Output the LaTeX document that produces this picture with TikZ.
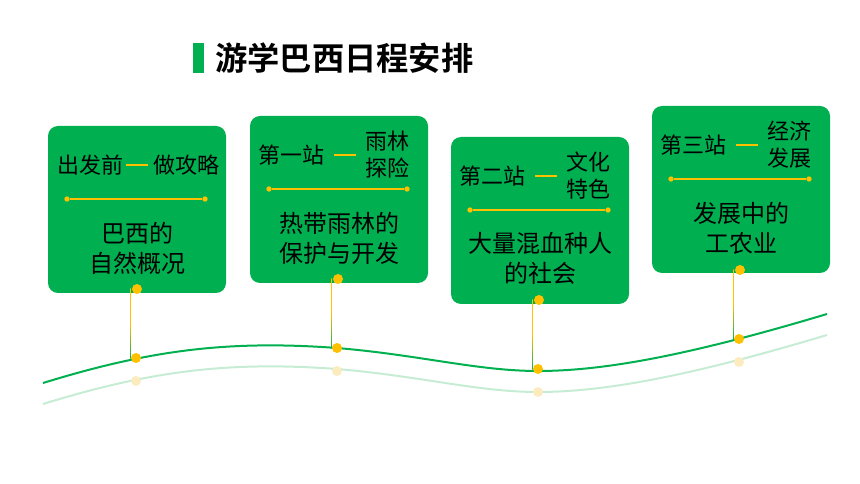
\documentclass[tikz,border=0pt]{standalone}
\usepackage{fontspec}
\setmainfont{Noto Sans CJK SC}[BoldFont={Noto Sans CJK SC Bold}]
\usetikzlibrary{positioning,calc}
\definecolor{boxgreen}{HTML}{00B050}
\definecolor{dotyellow}{HTML}{FFC000}
\definecolor{palegreen}{HTML}{C6ECD4}
\definecolor{paleyellow}{HTML}{FDEBC0}
\newcommand{\headfont}{\fontsize{16.5}{20.25}\selectfont}
\newcommand{\bodyfont}{\fontsize{18}{22.5}\selectfont}

\begin{document}
\begin{tikzpicture}[x=0.75pt,y=-0.75pt,
    stationbox/.style={fill=boxgreen,rounded corners=7.5pt,minimum width=133.5pt,minimum height=125.25pt,inner sep=0pt},
    headtext/.style={font=\headfont,inner sep=0pt,align=center},
    bodytext/.style={font=\bodyfont,inner sep=0pt,align=center},
    divider/.style={dotyellow,line width=1.5pt},
    headdash/.style={dotyellow,line width=1.2pt},
    enddot/.style={circle,fill=dotyellow,inner sep=0pt,minimum size=4pt},
    bigdot/.style={circle,fill=#1,inner sep=0pt,minimum size=7.5pt},
    wave/.style={line width=1.5pt}]
  \useasboundingbox (0,0) rectangle (860,484);

  % title
  \fill[boxgreen] (193,43) rectangle (204,73);
  \node[font=\fontsize{24.2}{28}\selectfont\bfseries,inner sep=0pt,anchor=west] (title) at (215,58) {游学巴西日程安排};

  % boxes, dividers, dots
  \foreach \n/\x/\y in {1/137/209.5,2/339/199.5,3/540/220.5,4/741/189.5} {
    \node[stationbox] (box\n) at (\x,\y) {};
    \node[enddot] (dl\n) at (\x-70,\y-10.5) {};
    \node[enddot] (dr\n) at (\x+68,\y-10.5) {};
    \draw[divider] (dl\n) -- (dr\n);
  }

  % first box heading
  \node[headtext] (l1) at (90,165) {出发前};
  \node[headtext] (r1) at (186,165) {做攻略};
  \draw[headdash] ([xshift=2.25pt]l1.east) -- ([xshift=18.75pt]l1.east);

  % other headings
  \foreach \n/\x/\y/\a/\b in {2/339/199.5/第一站/雨林\\探险,3/540/220.5/第二站/文化\\特色,4/741/189.5/第三站/经济\\发展} {
    \node[headtext] (l\n) at (\x-48,\y-44.5) {\a};
    \node[headtext] (r\n) at (\x+48,\y-44.5) {\b};
    \draw[headdash] ([xshift=7.5pt]l\n.east) -- ([xshift=24pt]l\n.east);
  }

  % body texts
  \node[bodytext] (t1) at (137,248) {巴西的\\自然概况};
  \node[bodytext] (t2) at (339,238) {热带雨林的\\保护与开发};
  \node[bodytext] (t3) at (540,258) {大量混血种人\\的社会};
  \node[bodytext] (t4) at (741,228) {发展中的\\工农业};

  % waves
  \draw[wave,palegreen,shift={(0,21)}] (43,383) .. controls (150,350) and (228,340) .. (337,348)
    .. controls (420,355) and (478,371) .. (538,371) .. controls (610,371) and (700,352) .. (827,314);
  \draw[wave,boxgreen] (43,383) .. controls (150,350) and (228,340) .. (337,348)
    .. controls (420,355) and (478,371) .. (538,371) .. controls (610,371) and (700,352) .. (827,314);

  % links to the wave
  \foreach \n/\x/\y/\t in {1/136/358/289,2/337/348/279,3/538/369/300,4/739/339/270} {
    \coordinate (bd\n) at (\x+1,\t);
    \coordinate (c\n) at (\x,\y);
    \shade[top color=dotyellow,bottom color=boxgreen,middle color=dotyellow]
      ($(bd\n)+(-7,0)$) rectangle ($(c\n)+(-5.5,1)$);
    \node[bigdot=dotyellow] (bdot\n) at (bd\n) {};
    \node[bigdot=paleyellow] (p\n) at (\x,\y+23) {};
    \node[bigdot=dotyellow] (cd\n) at (c\n) {};
  }
\end{tikzpicture}
\end{document}
